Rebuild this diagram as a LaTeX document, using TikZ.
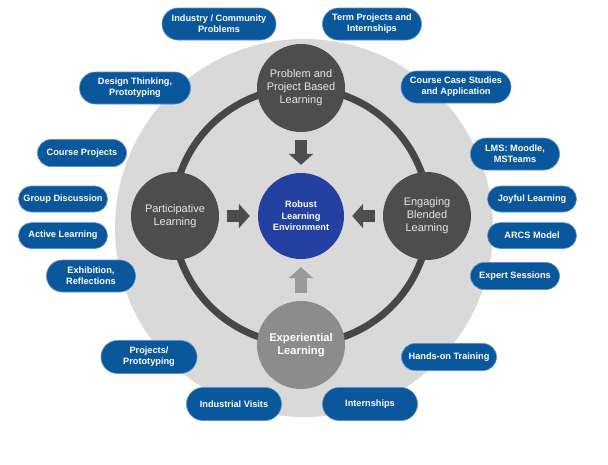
\documentclass[tikz,border=0pt]{standalone}
\usepackage{fontspec}
\setmainfont{Liberation Sans}
\usetikzlibrary{arrows.meta,positioning,shapes.misc}
\definecolor{Disc}{HTML}{D9D9D9}
\definecolor{Ring}{HTML}{474747}
\definecolor{Hub}{HTML}{4D4D4D}
\definecolor{HubText}{HTML}{E6E6E6}
\definecolor{Field}{HTML}{8C8C8C}
\definecolor{FieldArrow}{HTML}{9A9A9A}
\definecolor{Core}{HTML}{2340A0}
\definecolor{Pill}{HTML}{0B579B}
\definecolor{PillEdge}{HTML}{5A8FD0}

\begin{document}
\begin{tikzpicture}[x=1pt,y=-1pt,
          node distance=10pt,
          hub/.style={circle,fill=Hub,text=HubText,minimum size=88pt,inner sep=1pt,
            align=center,font=\fontsize{11}{13}\selectfont},
          core/.style={circle,fill=Core,text=white,minimum size=86pt,inner sep=1pt,
            align=center,font=\fontsize{9.2}{11.5}\selectfont\bfseries},
          pill/.style={rounded rectangle,fill=Pill,draw=PillEdge,line width=0.6pt,text=white,
            minimum height=27pt,minimum width=93pt,inner sep=2pt,align=center,
            font=\fontsize{9.2}{11}\selectfont\bfseries},
          blk/.style={-{Triangle[length=11pt,width=24pt]},draw=Hub,line width=12pt,
            shorten <=8pt,shorten >=8pt}]
        \useasboundingbox (0,0) rectangle (608,464);
        % backdrop and ring
        \fill[Disc] (304,228) circle (189);
        \coordinate (hubc) at (301,216);
        \draw[Ring,line width=7pt] (hubc) circle (128);
        % centre and the four approaches
        \node[core] (rle) at (hubc) {Robust\\Learning\\Environment};
        \node[hub] (pbl) at (301,88) {Problem and\\Project Based\\Learning};
        \node[hub] (part) at (175,216) {Participative\\Learning};
        \node[hub] (ebl) at (427,216) {Engaging\\Blended\\Learning};
        \node[hub,fill=Field,text=white,font=\fontsize{11.2}{13.5}\selectfont\bfseries] (exp) at (301,345) {Experiential\\Learning};
        \draw[blk] (pbl)--(rle);
        \draw[blk] (part)--(rle);
        \draw[blk] (ebl)--(rle);
        \draw[blk,draw=FieldArrow] (exp)--(rle);
        % activities
        \node[pill,minimum width=118pt,minimum height=32pt] (icp) at (219,24) {Industry / Community\\Problems};
        \node[pill,minimum width=103pt,minimum height=32pt] (tpi) at (372,24) {Term Projects and\\Internships};
        \node[pill,minimum width=115pt,minimum height=32pt] (dtp) at (135,88) {Design Thinking,\\Prototyping};
        \node[pill] (cp) at (82,153) {Course Projects};
        \node[pill,minimum height=26pt] (gd) at (63,199) {Group Discussion};
        \node[pill,minimum height=26pt,below=of gd] (al) {Active Learning};
        \node[pill,minimum height=32pt] (er) at (91,276) {Exhibition,\\Reflections};
        \node[pill,minimum width=114pt,minimum height=32pt] (ccs) at (456,87) {Course Case Studies\\and Application};
        \node[pill,minimum height=32pt] (lms) at (515,154) {LMS: Moodle,\\MSTeams};
        \node[pill,minimum height=26pt] (jl) at (532,199) {Joyful Learning};
        \node[pill,minimum height=26pt,below=of jl] (arcs) {ARCS Model};
        \node[pill] (es) at (515,276) {Expert Sessions};
        \node[pill,minimum width=100pt,minimum height=33pt] (pp) at (149,357) {Projects/\\Prototyping};
        \node[pill,minimum width=99pt] (hot) at (449,357) {Hands-on Training};
        \node[pill,minimum width=99pt,minimum height=33pt] (iv) at (234,404) {Industrial Visits};
        \node[pill,minimum width=99pt,minimum height=33pt] (int) at (370,404) {Internships};
      \end{tikzpicture}
\end{document}
